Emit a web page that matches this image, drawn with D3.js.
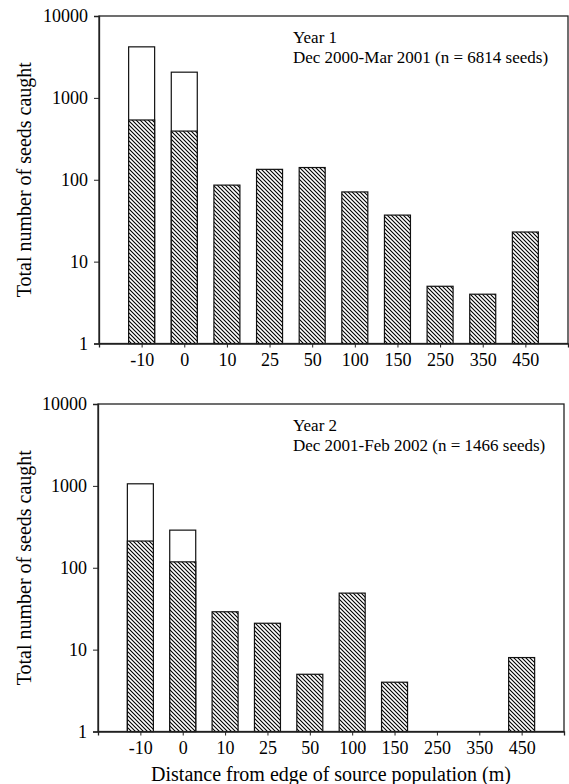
<!DOCTYPE html>
<html>
<head>
<meta charset="utf-8">
<script src="https://cdn.jsdelivr.net/npm/d3@7"></script>
<style>
  body { margin: 0; background: #fff; }
  text { font-family: "Liberation Serif", "Times New Roman", serif; fill: #000; }
</style>
</head>
<body>
<svg id="chart"></svg>
<script>
const distances = ['-10', '0', '10', '25', '50', '100', '150', '250', '350', '450'];

// year 1: whole bar (open part on top) and the hatched part
const year1Total   = [4200, 2060, 86, 134, 141, 71, 37, 5, 4, 23];
const year1Hatched = [537, 393, 86, 134, 141, 71, 37, 5, 4, 23];

// year 2: 250 and 350 m caught nothing
const year2Total   = [1060, 288, 29, 21, 5, 49, 4, 0, 0, 8];
const year2Hatched = [212, 118, 29, 21, 5, 49, 4, 0, 0, 8];

const yTicks = [1, 10, 100, 1000, 10000];

const svg = d3.select('#chart')
.attr('width', 569)
.attr('height', 784);

const defs = svg.append('defs');
const hatch = defs.append('pattern')
.attr('id', 'hatch')
.attr('patternUnits', 'userSpaceOnUse')
.attr('width', 4)
.attr('height', 4);
hatch.append('rect')
.attr('width', 4)
.attr('height', 4)
.attr('fill', '#fff');
hatch.append('path')
.attr('d', 'M0,0 L4,4 M-1,3 L1,5 M3,-1 L5,1')
.attr('stroke', '#000')
.attr('stroke-width', 1.1);

function drawPanel(box, totals, hatched, line1, line2) {
  const x = d3.scalePoint()
  .domain(distances)
  .range([box.left, box.right])
  .padding(1);

  const y = d3.scaleLog()
  .domain([1, 10000])
  .range([box.bottom, box.top]);

  const g = svg.append('g');

  // frame
  g.append('rect')
  .attr('x', box.left)
  .attr('y', box.top)
  .attr('width', box.right - box.left)
  .attr('height', box.bottom - box.top)
  .attr('fill', 'none')
  .attr('stroke', '#222')
  .attr('stroke-width', 1.3);

  const barW = 26;

  // open part (total)
  g.selectAll('.total')
  .data(distances.filter((d, i) => totals[i] > hatched[i]))
  .enter()
  .append('rect')
  .attr('class', 'total')
  .attr('x', d => x(d) - barW / 2)
  .attr('y', d => y(totals[distances.indexOf(d)]))
  .attr('width', barW)
  .attr('height', d => box.bottom - y(totals[distances.indexOf(d)]))
  .attr('fill', '#fff')
  .attr('stroke', '#111')
  .attr('stroke-width', 1.2);

  // hatched part
  g.selectAll('.hatched')
  .data(distances.filter((d, i) => hatched[i] >= 1))
  .enter()
  .append('rect')
  .attr('class', 'hatched')
  .attr('x', d => x(d) - barW / 2)
  .attr('y', d => y(hatched[distances.indexOf(d)]))
  .attr('width', barW)
  .attr('height', d => box.bottom - y(hatched[distances.indexOf(d)]))
  .attr('fill', 'url(#hatch)')
  .attr('stroke', '#111')
  .attr('stroke-width', 1.2);

  const xAxis = g.append('g')
  .attr('transform', `translate(0, ${box.bottom})`)
  .call(d3.axisBottom(x).tickSize(4).tickPadding(6));
  xAxis.select('.domain').attr('stroke', '#222').attr('stroke-width', 1.3);
  xAxis.selectAll('.tick line').attr('stroke', '#222');
  xAxis.selectAll('text').style('font-size', '18px').attr('fill', '#000');

  const yAxis = g.append('g')
  .attr('transform', `translate(${box.left}, 0)`)
  .call(d3.axisLeft(y).tickValues(yTicks).tickFormat(d3.format('d')).tickSize(5).tickPadding(6));
  yAxis.select('.domain').attr('stroke', '#222').attr('stroke-width', 1.3);
  yAxis.selectAll('.tick line').attr('stroke', '#222');
  yAxis.selectAll('text').style('font-size', '18px').attr('fill', '#000');

  g.append('text')
  .attr('transform', 'rotate(-90)')
  .attr('x', -(box.top + box.bottom) / 2)
  .attr('y', 31)
  .attr('text-anchor', 'middle')
  .style('font-size', '20px')
  .text('Total number of seeds caught');

  g.append('text')
  .attr('x', 293)
  .attr('y', box.top + 27)
  .style('font-size', '17px')
  .text(line1);

  g.append('text')
  .attr('x', 293)
  .attr('y', box.top + 47)
  .style('font-size', '17px')
  .text(line2);
}

drawPanel({left: 99, right: 568, top: 16, bottom: 343.5},
  year1Total, year1Hatched, 'Year 1', 'Dec 2000-Mar 2001 (n = 6814 seeds)');

drawPanel({left: 98, right: 564, top: 404, bottom: 731.5},
  year2Total, year2Hatched, 'Year 2', 'Dec 2001-Feb 2002 (n = 1466 seeds)');

svg.append('text')
.attr('x', 331)
.attr('y', 781)
.attr('text-anchor', 'middle')
.style('font-size', '20px')
.text('Distance from edge of source population (m)');
</script>
</body>
</html>
